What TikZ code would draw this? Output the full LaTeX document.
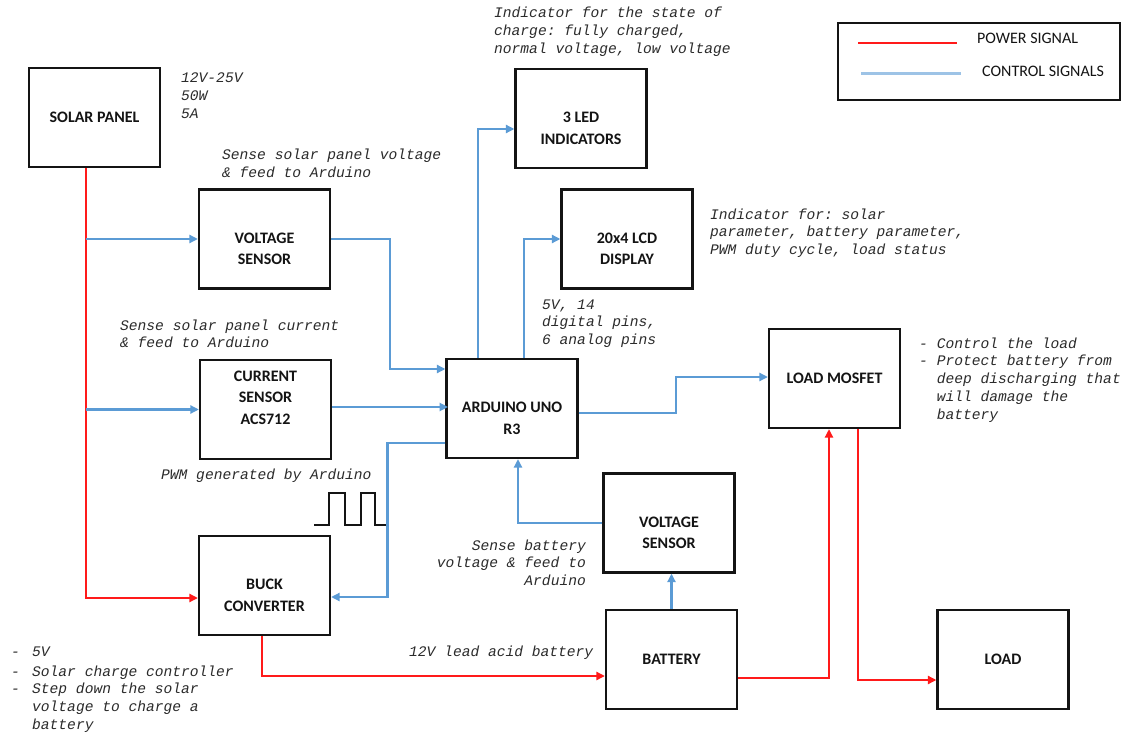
\documentclass[tikz,border=0pt]{standalone}
\usepackage{fontspec}
\setmainfont{Carlito}
\setmonofont{Liberation Mono}
\usetikzlibrary{arrows.meta,calc}
\definecolor{SCRed}{HTML}{FF1A1A}
\definecolor{SCBlue}{HTML}{5B9BD5}
\definecolor{SCBlueLight}{HTML}{9DC3E6}
\definecolor{SCInk}{HTML}{141414}
\definecolor{SCNote}{HTML}{2B2B2B}
\tikzset{
  power/.style={-{Triangle[length=8.5pt,width=8pt]},SCRed,line width=2.2pt},
  ctrl/.style={-{Triangle[length=8.5pt,width=8pt]},SCBlue,line width=2.2pt},
  block/.style={draw=SCInk,line width=2.2pt,minimum width=131pt,minimum height=99pt,
                text=SCInk,align=center,inner sep=2pt,
                font=\fontsize{16}{21.5}\selectfont\bfseries},
  note/.style={text=SCNote,align=left,inner sep=0pt,anchor=base west,
               font=\fontsize{14.6}{17.8}\selectfont\ttfamily\itshape},
  legendtext/.style={text=SCInk,inner sep=0pt,font=\fontsize{16}{19}\selectfont},
  legendbox/.style={draw=SCInk,line width=2.2pt},
}
\begin{document}
\begin{tikzpicture}[x=1pt,y=-1pt]
  \useasboundingbox (0,0) rectangle (1125,733);
  \fill[white] (0,0) rectangle (1125,733);
  % blocks, placed at their centres (pixel grid, y downwards)
  \node[block] (solar)   at (94.5,117.5)  {SOLAR PANEL};
  \node[block] (vsolar)  at (264.5,239)   {\rule{0pt}{30pt}VOLTAGE\\SENSOR};
  \node[block] (csensor) at (265.5,409.5) {CURRENT\\SENSOR\\ACS712\rule[-24pt]{0pt}{24pt}};
  \node[block] (buck)    at (264.5,585.5) {\rule{0pt}{30pt}BUCK\\CONVERTER};
  \node[block] (arduino) at (512,408.5)   {\rule{0pt}{30pt}ARDUINO UNO\\R3};
  \node[block] (leds)    at (581,118.5)   {\rule{0pt}{30pt}3 LED\\INDICATORS};
  \node[block] (lcd)     at (627,239)     {\rule{0pt}{30pt}20x4 LCD\\DISPLAY};
  \node[block] (mosfet)  at (834.5,378.5) {LOAD MOSFET};
  \node[block] (vbatt)   at (669,523)     {\rule{0pt}{30pt}VOLTAGE\\SENSOR};
  \node[block] (battery) at (671.5,659.5) {BATTERY};
  \node[block] (load)    at (1003,659.5)  {LOAD};

  \node[legendbox,minimum width=282pt,minimum height=77pt] (legend) at (979,61.5) {};
  \draw[SCRed,line width=2.2pt] (858,43) -- (957,43);
  \draw[SCBlueLight,line width=3pt] (861,74) -- (961,74);
  \node[legendtext,anchor=west] (powerkey) at (977,38) {POWER SIGNAL};
  \node[legendtext,anchor=west] (ctrlkey)  at (982,71) {CONTROL SIGNALS};

  % power path
  \coordinate (spine) at ([xshift=-8.5pt]solar.south);
  \draw[power] (spine) |- ([yshift=-12.5pt]buck.west);
  \draw[power] ([xshift=-2.5pt]buck.south) |- ([yshift=-16.5pt]battery.west);
  \draw[power] ([yshift=-18.5pt]battery.east) -| ([xshift=-5.5pt]mosfet.south);
  \draw[power] ([xshift=23.5pt]mosfet.south) |- ([yshift=-20.5pt]load.west);

  % control signals
  \draw[ctrl] (spine |- vsolar.west) -- (vsolar.west);
  \draw[ctrl] (spine |- csensor.west) -- (csensor.west);
  \draw[ctrl] (vsolar.east) -- ++(59,0) |- ([yshift=39.5pt]arduino.west);
  \draw[ctrl] ([yshift=2.5pt]csensor.east) -- ++(116,0);
  \draw[ctrl] ([yshift=-34.5pt]arduino.west) -- ++(-58,0) |- ([yshift=-11.5pt]buck.east);
  \draw[ctrl] ([xshift=-34pt]arduino.north) |- ([yshift=-10.5pt]leds.west);
  \draw[ctrl] ([xshift=12pt]arduino.north) |- (lcd.west);
  \draw[ctrl] ([yshift=-4.5pt]arduino.east) -- ++(97,0) |- ([yshift=1.5pt]mosfet.west);
  \draw[ctrl] (vbatt.west) -| ([xshift=6pt]arduino.south);
  \draw[ctrl] (battery.north) -- (battery.north |- vbatt.south);

  \draw[SCInk,line width=1.6pt] (314,525) -- ++(15,0) -- ++(0,-32) -- ++(16,0) -- ++(0,32)
    -- ++(16,0) -- ++(0,-32) -- ++(14,0) -- ++(0,32) -- ++(11,0);

  % notes (anchored at the baseline of their last line)
  \node[note] (panelspec)   at (181,118.6) {12V-25V\\50W\\5A};
  \node[note] (vsolarnote)  at (222,177.8) {Sense solar panel voltage\\\& feed to Arduino};
  \node[note] (ledsnote)    at (494,53.6)  {Indicator for the state of\\charge: fully charged,\\normal voltage, low voltage};
  \node[note] (lcdnote)     at (710,254.6) {Indicator for: solar\\parameter, battery parameter,\\PWM duty cycle, load status};
  \node[note] (pinsnote)    at (542,344.6) {5V, 14\\digital pins,\\6 analog pins};
  \node[note] (csensornote) at (120,347.8) {Sense solar panel current\\\& feed to Arduino};
  \node[note] (mosfetnote)  at (919,419.2) {\makebox[17.6pt][l]{-}Control the load\\
    \makebox[17.6pt][l]{-}Protect battery from\\\hspace*{17.6pt}deep discharging that\\
    \hspace*{17.6pt}will damage the\\\hspace*{17.6pt}battery};
  \node[note] (pwmnote)     at (161,479)   {PWM generated by Arduino};
  \node[note,anchor=base east,align=right] (vbattnote) at (586,585.6) {Sense battery\\voltage \& feed to\\Arduino};
  \node[note] (batterynote) at (409,656)   {12V lead acid battery};
  \node[note] (bucknote)    at (11,729.5)  {\makebox[21pt][l]{-}5V\\[2pt]
    \makebox[21pt][l]{-}Solar charge controller\\\makebox[21pt][l]{-}Step down the solar\\
    \hspace*{21pt}voltage to charge a\\\hspace*{21pt}battery};
\end{tikzpicture}
\end{document}
